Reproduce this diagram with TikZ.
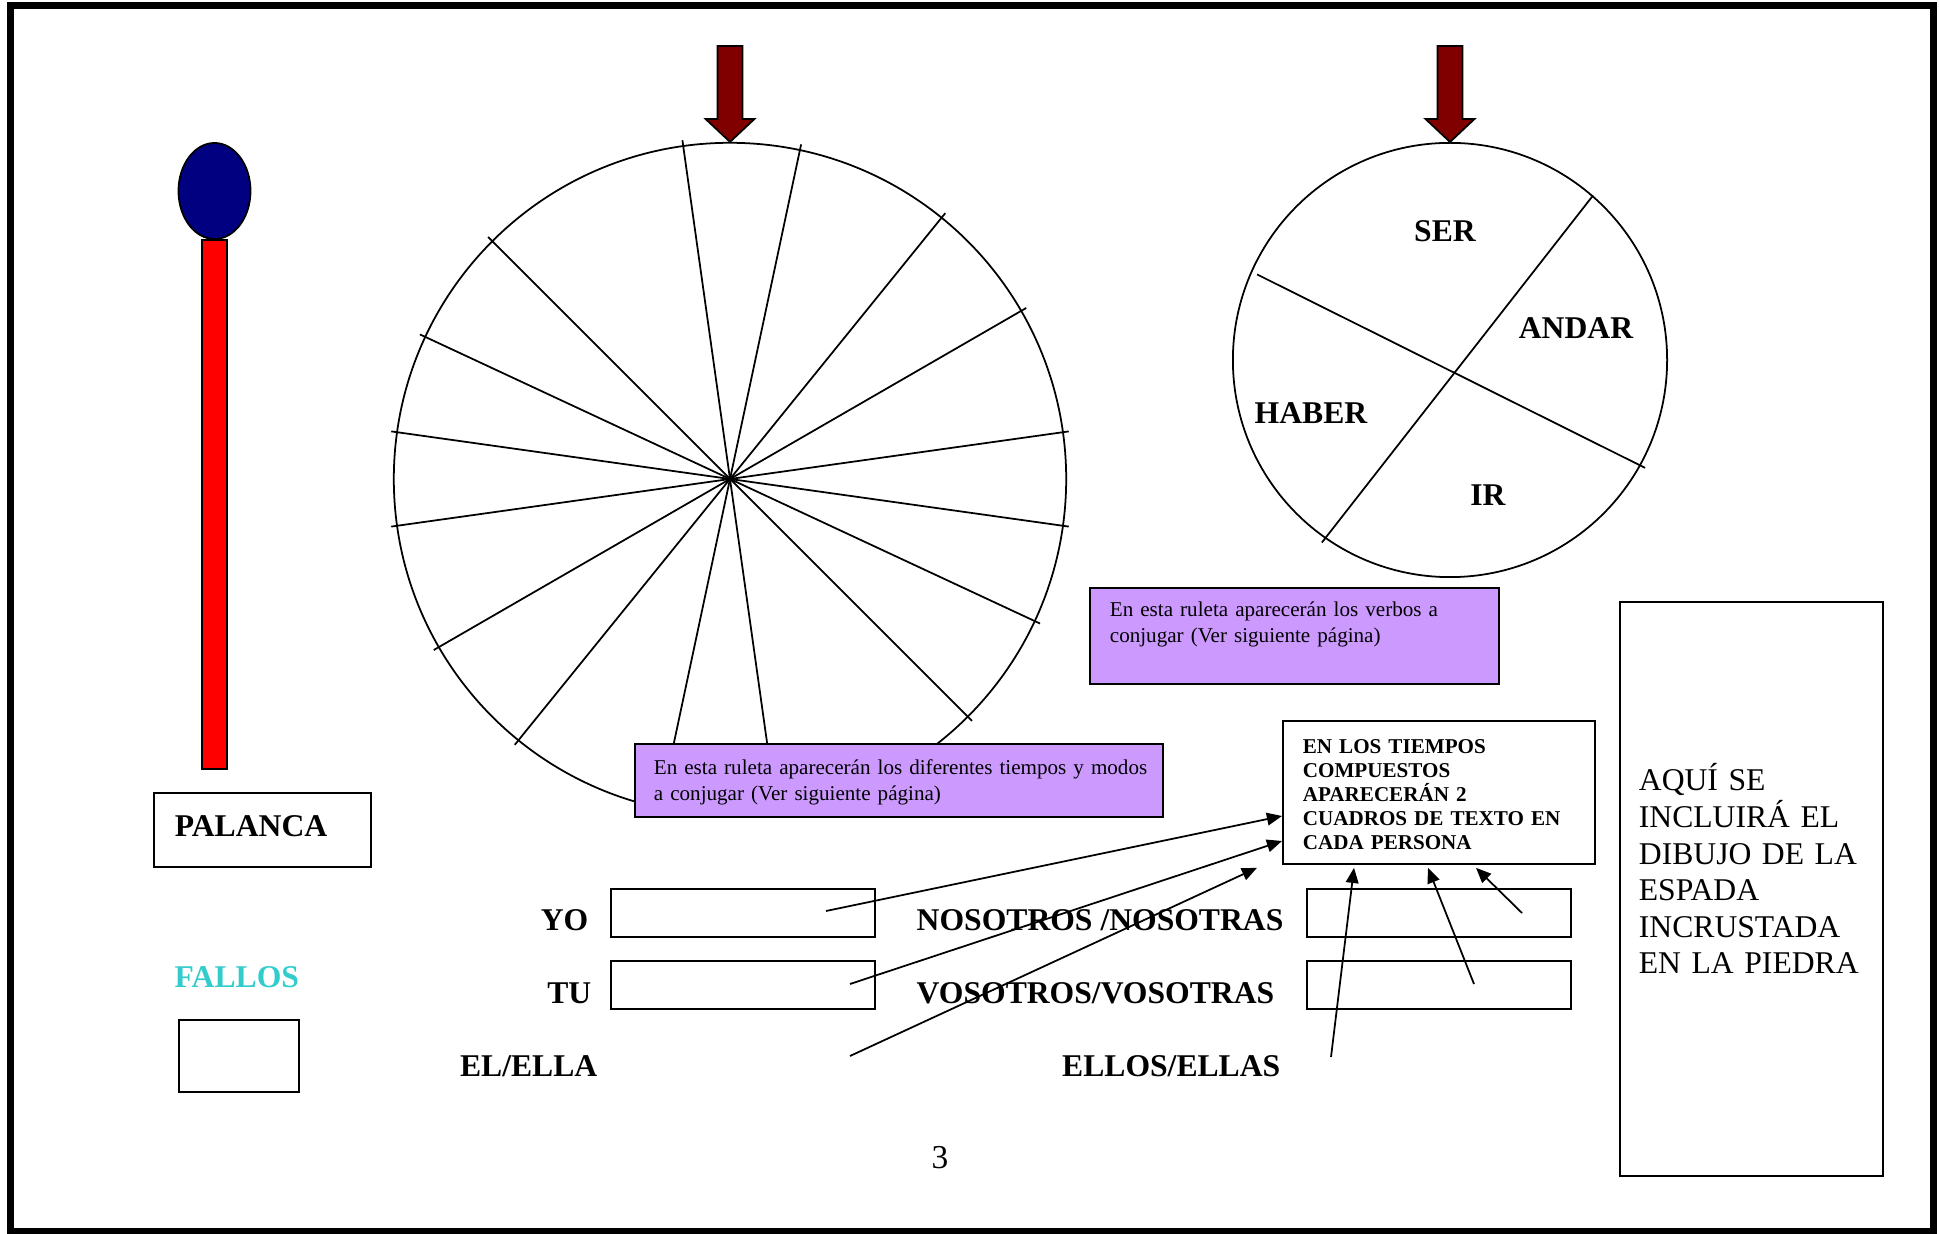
\documentclass[tikz,border=0pt]{standalone}
\usepackage{fontspec}
\setmainfont{Liberation Serif}
\usetikzlibrary{shapes.geometric, arrows.meta, positioning, calc}
\definecolor{leverblue}{RGB}{0, 0, 128}
\definecolor{leverred}{RGB}{255, 0, 0}
\definecolor{pointerred}{RGB}{128, 0, 0}
\definecolor{notepurple}{RGB}{204, 153, 255}
\definecolor{falloscyan}{RGB}{51, 204, 204}

\tikzset{
    personlabel/.style={font=\fontsize{9}{10.8}\selectfont\bfseries, inner sep=0pt},
    answerbox/.style={draw, line width=0.5pt, minimum width=2.64cm, minimum height=0.48cm, inner sep=0pt, anchor=north west},
    notebox/.style={draw, line width=0.5pt, fill=notepurple, anchor=north west, align=left, inner xsep=0.2cm, inner ysep=0pt, font=\fontsize{6}{7.4}\selectfont},
    wheelline/.style={line width=0.5pt, shorten <=-0.05cm, shorten >=-0.05cm},
    callout/.style={line width=0.5pt, -{Triangle[length=4.3pt, width=3.6pt]}},
    pointer/.pic={
        \draw[fill=pointerred, line width=0.5pt] (-12.5,96) -- (12.5,96) -- (12.5,23) -- (24.5,23) -- (0,0) -- (-24.5,23) -- (-12.5,23) -- cycle;
    }
}

\begin{document}
\begin{tikzpicture}[x=0.01cm, y=0.01cm]
    \useasboundingbox (0,0) rectangle (1939,-1234);
    \draw[line width=0.07cm] (10.5,-6) rectangle (1933.5,-1231.5);

    % palanca
    \node[draw, fill=leverred, line width=0.5pt, minimum width=0.25cm, minimum height=5.29cm, inner sep=0pt, anchor=north] (bar) at (214.5,-239) {};
    \node[draw, fill=leverblue, ellipse, line width=0.5pt, minimum width=0.72cm, minimum height=0.96cm, inner sep=0pt] (knob) at (214.5,-191) {};
    \node[draw, line width=0.5pt, anchor=north west, align=left, text width=1.75cm, inner xsep=0.21cm, inner ysep=0pt,
          text height=0.44cm, text depth=0.3cm, font=\fontsize{9}{10.8}\selectfont\bfseries] (palanca) at (153,-792) {PALANCA};
    \node[personlabel, text=falloscyan, anchor=base west] (fallos) at (174,-988) {FALLOS};
    \node[draw, line width=0.5pt, minimum width=1.2cm, minimum height=0.72cm, inner sep=0pt, anchor=north west] (fallosbox) at (178,-1019) {};

    % ruleta de tiempos
    \node[draw, circle, line width=0.5pt, minimum size=6.72cm, inner sep=0pt] (tiempos) at (730,-479) {};
    \foreach \a [evaluate=\a as \b using int(\a+180)] in {8,30,51,78,98,135,155,172}
        \draw[wheelline] (tiempos.\a) -- (tiempos.\b);
    \pic at (tiempos.north) {pointer};

    % ruleta de verbos
    \node[draw, circle, line width=0.5pt, minimum size=4.34cm, inner sep=0pt] (verbos) at (1450,-360) {};
    \draw[wheelline, shorten <=0.07cm] (verbos.156) -- (verbos.331);
    \draw[wheelline, shorten <=0cm] (verbos.49) -- (verbos.235);
    \pic at (verbos.north) {pointer};
    \node[personlabel] (ser) at ($(verbos.center)+(-5,129)$) {SER};
    \node[personlabel] (andar) at ($(verbos.center)+(126,32)$) {ANDAR};
    \node[personlabel] (haber) at ($(verbos.center)+(-139,-53)$) {HABER};
    \node[personlabel] (ir) at ($(verbos.center)+(38,-135)$) {IR};

    % notas
    \node[notebox, text width=3.69cm, text height=0.29cm, text depth=0.67cm] (notaverbos) at (1089,-587)
        {\mbox{En esta ruleta aparecerán los verbos a}\\\mbox{conjugar (Ver siguiente página)}};
    \node[notebox, text width=4.9cm, inner xsep=0.19cm, text height=0.31cm, text depth=0.42cm] (notatiempos) at (634,-743)
        {\mbox{En esta ruleta aparecerán los diferentes tiempos y modos}\\\mbox{a conjugar (Ver siguiente página)}};

    \node[draw, line width=0.5pt, anchor=north west, align=left, text width=2.72cm, inner xsep=0.2cm, inner ysep=0pt,
          text height=0.33cm, text depth=1.1cm, font=\fontsize{6}{6.83}\selectfont\bfseries] (compuestos) at (1282,-720)
        {EN LOS TIEMPOS\\COMPUESTOS\\APARECERÁN 2\\CUADROS DE TEXTO EN\\CADA PERSONA};
    \node[draw, line width=0.5pt, anchor=north west, align=left, text width=2.25cm, inner xsep=0.19cm, inner ysep=0pt,
          text height=1.89cm, text depth=3.85cm, font=\fontsize{9}{10.4}\selectfont] (espada) at (1619,-601)
        {AQUÍ SE\\INCLUIRÁ EL\\DIBUJO DE LA\\ESPADA\\INCRUSTADA\\EN LA PIEDRA};

    % personas
    \node[answerbox] (yobox) at (610,-888) {};
    \node[answerbox] (tubox) at (610,-960) {};
    \node[answerbox] (nosbox) at (1306,-888) {};
    \node[answerbox] (vosbox) at (1306,-960) {};
    \node[personlabel, anchor=base east] (yo) at (589,-930) {YO};
    \node[personlabel, anchor=base east] (tu) at (592,-1003) {TU};
    \node[personlabel, anchor=base east] (el) at (598,-1076) {EL/ELLA};
    \node[personlabel, anchor=base west] (nos) at (916,-930) {NOSOTROS /NOSOTRAS};
    \node[personlabel, anchor=base west] (vos) at (916,-1003) {VOSOTROS/VOSOTRAS};
    \node[personlabel, anchor=base east] (ellos) at (1281,-1076) {ELLOS/ELLAS};

    \coordinate (fromyo) at (826,-911);
    \coordinate (fromtu) at (850,-984);
    \coordinate (fromel) at (850,-1056);
    \coordinate (fromellos) at (1331,-1057);
    \coordinate (fromvos) at (1474,-984);
    \coordinate (fromnos) at (1522,-913);
    \draw[callout] (fromyo) -- ($(compuestos.north west)+(0,-96)$);
    \draw[callout] (fromtu) -- ($(compuestos.north west)+(0,-121)$);
    \draw[callout] (fromel) -- ($(compuestos.south west)+(-25,-3)$);
    \draw[callout] (fromellos) -- ($(compuestos.south west)+(72,-3)$);
    \draw[callout] (fromvos) -- ($(compuestos.south west)+(146,-3)$);
    \draw[callout] (fromnos) -- ($(compuestos.south west)+(194,-3)$);

    \node[font=\fontsize{9.5}{11}\selectfont] (pagina) at (940,-1158) {3};
\end{tikzpicture}
\end{document}
